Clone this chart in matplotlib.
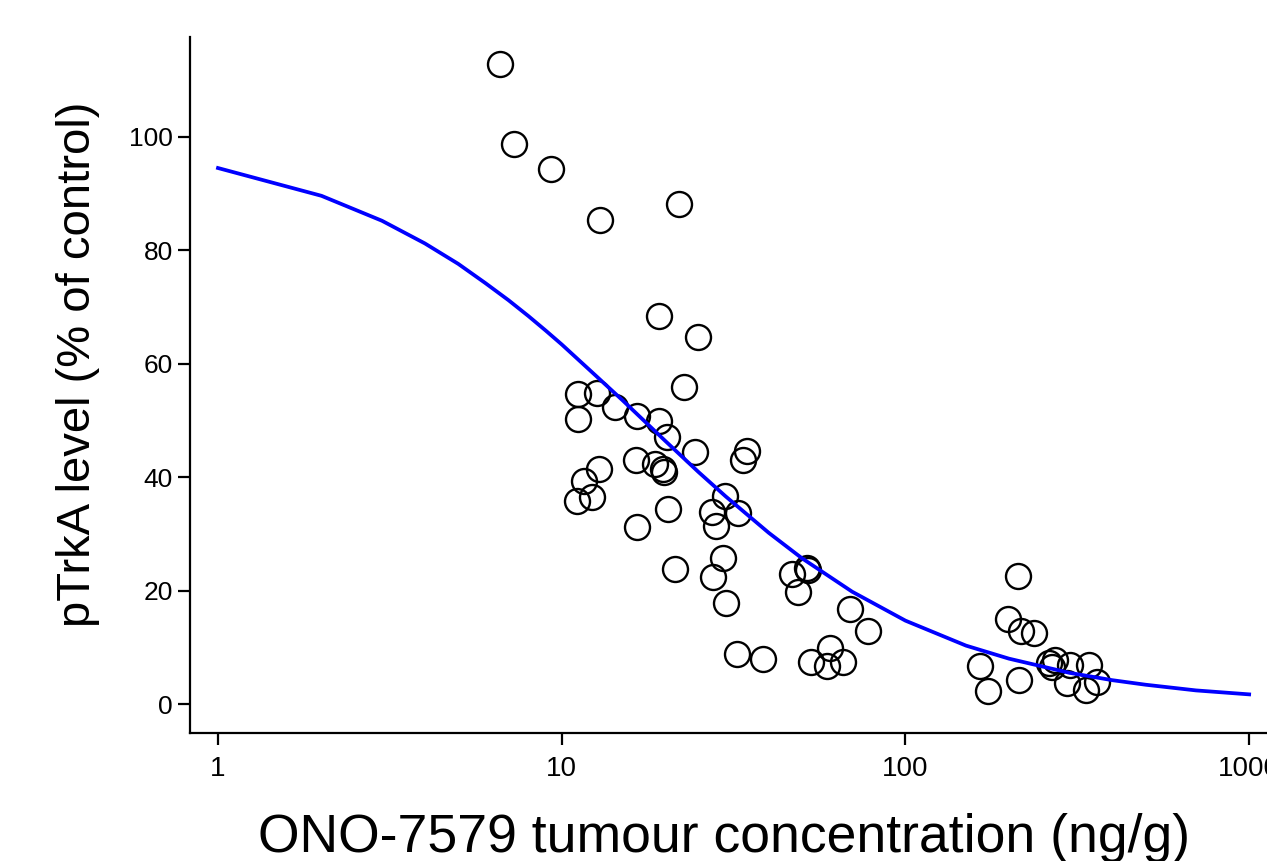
import matplotlib
matplotlib.use("Agg")
import matplotlib.pyplot as plt

# -----------------------------
# Data
# -----------------------------
conc = [6.62, 7.26, 9.31, 12.93, 21.94, 19.19, 24.93, 22.69, 11.15, 12.67,
        11.15, 14.29, 16.56, 19.19, 20.25, 24.43, 34.6, 33.7, 16.45, 18.69,
        19.71, 19.85, 12.84, 11.61, 11.08, 12.25, 16.56, 20.38, 29.87, 27.37,
        32.6, 28.11, 21.36, 29.47, 27.55, 30.06, 32.36, 38.53, 46.79, 48.70,
        51.73, 52.08, 69.0, 77.8, 53.13, 60.34, 59.14, 65.82, 212.6, 198.9,
        216.9, 236.7, 164.9, 173.9, 214.0, 261.7, 272.4, 267.0, 301.2, 295.3,
        342.1, 335.3, 361.0]
ptrka = [112.9, 98.7, 94.3, 85.4, 88.2, 68.4, 64.7, 55.9, 54.7, 54.9,
         50.3, 52.4, 50.8, 49.9, 47.1, 44.4, 44.6, 43.0, 43.0, 42.3,
         41.4, 40.9, 41.4, 39.3, 35.8, 36.5, 31.2, 34.4, 36.7, 33.9,
         33.7, 31.4, 23.8, 25.7, 22.4, 17.8, 8.8, 7.9, 22.9, 19.8,
         24.0, 23.6, 16.8, 12.9, 7.4, 9.9, 6.7, 7.4, 22.6, 15.0,
         12.9, 12.5, 6.7, 2.3, 4.2, 7.2, 7.8, 6.5, 6.9, 3.7,
         6.9, 2.5, 3.9]

# fitted curve
fit_x = [1, 2, 3, 4, 5, 6, 7, 8, 9, 10, 12, 15, 20, 25, 30, 40, 50, 70,
         100, 150, 200, 300, 400, 500, 700, 1000]
fit_y = [94.5, 89.6, 85.2, 81.2, 77.6, 74.2, 71.2, 68.4, 65.8, 63.4, 59.0,
         53.6, 46.4, 40.9, 36.6, 30.2, 25.7, 19.8, 14.7, 10.3, 8.0, 5.5,
         4.2, 3.4, 2.4, 1.7]

x_ticks = [1, 10, 100, 1000]
x_ticklabels = ["1", "10", "100", "1000"]
y_ticks = [0, 20, 40, 60, 80, 100]

TICK_FONT = ["Liberation Sans", "DejaVu Sans"]
LABEL_FONT = ["Liberation Sans", "DejaVu Sans"]

fig = plt.figure(figsize=(12.67, 8.61), dpi=100)
ax = fig.add_axes([190 / 1267, 1 - 733 / 861, 1 - 190 / 1267, (733 - 37) / 861])

ax.plot(conc, ptrka, "o", ms=18, mfc="none", mec="black", mew=1.7, zorder=2)
ax.plot(fit_x, fit_y, color="#0000ff", lw=2.7, zorder=3)

ax.set_xscale("log")
ax.set_xlim(0.829, 1127)
ax.set_ylim(-5.11, 117.6)

ax.set_xticks(x_ticks)
ax.set_xticklabels(x_ticklabels)
ax.xaxis.set_minor_locator(matplotlib.ticker.NullLocator())
ax.set_yticks(y_ticks)

for spine in ["top", "right"]:
    ax.spines[spine].set_visible(False)
for spine in ["left", "bottom"]:
    ax.spines[spine].set_linewidth(1.6)

ax.tick_params(axis="both", direction="out", length=8.5, width=1.6, color="black")
ax.tick_params(axis="x", pad=8)
ax.tick_params(axis="y", pad=4)
for lab in ax.get_xticklabels():
    lab.set_family(TICK_FONT)
    lab.set_fontsize(20)
for lab in ax.get_yticklabels():
    lab.set_family(TICK_FONT)
    lab.set_fontsize(19)

fig.text(724 / 1267, 1 - 838 / 861, "ONO-7579 tumour concentration (ng/g)",
         ha="center", va="center", fontsize=38.5, family=LABEL_FONT)
fig.text(78 / 1267, 1 - 364 / 861, "pTrkA level (% of control)",
         ha="center", va="center", rotation=90, fontsize=34, family=LABEL_FONT)

fig.savefig("out.png", dpi=100)
